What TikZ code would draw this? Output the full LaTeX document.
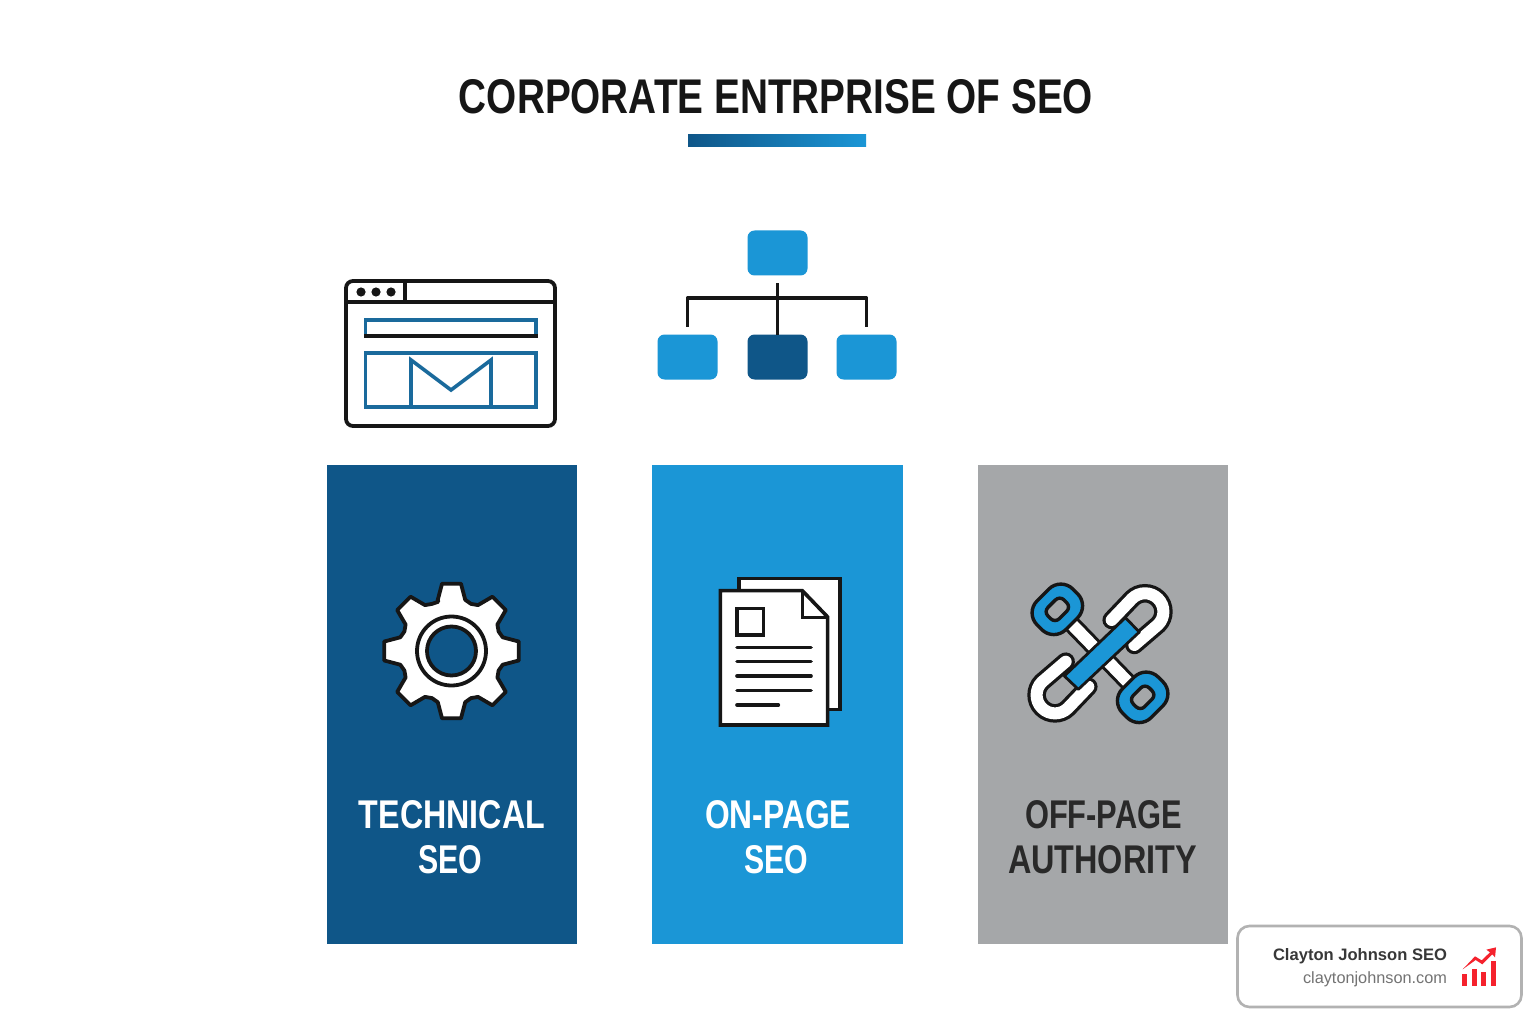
\documentclass[tikz,border=0pt]{standalone}
\usepackage{graphicx}
\usepackage{fontspec}
\setmainfont{Liberation Sans}
\definecolor{navy}{HTML}{0F5688}
\definecolor{sky}{HTML}{1B96D6}
\definecolor{stone}{HTML}{A5A7A9}
\definecolor{ink}{HTML}{161616}
\definecolor{teal}{HTML}{1A6A9C}
\definecolor{redc}{HTML}{F5222D}
\newcommand{\capfit}[3]{\resizebox{#1pt}{#2pt}{\bfseries #3}}
\tikzset{
  label/.style={inner sep=0pt,outer sep=0pt},
  orgbox/.style={rectangle,rounded corners=7pt,minimum width=60pt,minimum height=45pt,inner sep=0pt,outer sep=0pt},
  orgline/.style={draw=ink,line width=3.8pt},
  inkline/.style={draw=ink,line width=3.8pt,line join=round},
  tealline/.style={draw=teal,line width=3.6pt,line join=miter},
}
\begin{document}
\begin{tikzpicture}[x=1pt,y=-1pt]
\useasboundingbox[fill=white] (0,0) rectangle (1536,1024);

% title
\node[label,text=ink] (title) at (776,97) {\capfit{634}{34}{CORPORATE ENTRPRISE OF SEO}};
\shade[left color=navy,right color=sky] (688,135) rectangle (866,147);

% columns
\fill[navy] (327,465) rectangle (576.5,943.5);
\fill[sky] (652,465) rectangle (903,943.5);
\fill[stone] (978,465) rectangle (1227.5,943.5);

% browser icon
\draw[inkline,rounded corners=7pt] (346,281) rectangle (555,426);
\draw[inkline] (346,302) -- (555,302);
\draw[inkline] (405,281) -- (405,302);
\fill[ink] (361,292) circle (4.6) (376,292) circle (4.6) (391,292) circle (4.6);
\draw[tealline] (365.5,320) rectangle (536,336);
\draw[draw=ink,line width=3.6pt] (364,336) -- (537.5,336);
\draw[tealline] (365.5,353) rectangle (536,407);
\draw[tealline] (411,407) -- (411,360) -- (451,390) -- (491,360) -- (491,407);

% org chart
\node[orgbox,fill=sky] (orgtop) at (777.5,253) {};
\node[orgbox,fill=sky] (orgleft) at (687.5,357) {};
\node[orgbox,fill=navy] (orgmid) at (777.5,357) {};
\node[orgbox,fill=sky] (orgright) at (866.5,357) {};
\coordinate (orghub) at (777.5,298);
\draw[orgline,shorten <=8pt] (orgtop.south) -- (orgmid.north);
\draw[orgline,shorten <=8pt,shorten >=8pt,line join=round] (orgleft.north) |- (orghub) -| (orgright.north);
\draw[orgline,shorten >=8pt] (orghub) -- (orgmid.north);

% gear
\begin{scope}[shift={(451.5,651)}]
  \draw[fill=white,draw=ink,line width=3.8pt,line join=round]
    (-105:51)
    \foreach \a in {-90,-45,0,45,90,135,180,225} {
      -- ({\a-15}:53) -- ({\a-8}:68) -- ({\a+8}:68) -- ({\a+15}:53) -- ({\a+22.5}:51)
    } -- cycle;
  \draw[draw=ink,line width=3.8pt,fill=white] (0,0) circle (34.5);
  \draw[draw=ink,line width=3.8pt,fill=navy] (0,0) circle (24.5);
\end{scope}

% documents
\begin{scope}[shift={(705,565)},scale=0.33333]
  \draw[fill=white,draw=ink,line width=3.6pt,line join=miter] (102,40) rectangle (405,433);
  \draw[fill=white,draw=ink,line width=3.6pt,line join=miter] (46,77) -- (292,77) -- (368,156) -- (368,480) -- (46,480) -- cycle;
  \draw[draw=ink,line width=3.6pt,line join=miter] (292,77) -- (292,158) -- (368,158);
  \draw[draw=ink,line width=3.6pt] (96,130) rectangle (176,210);
  \foreach \yy in {247,290,333,377} {
    \draw[draw=ink,line width=3.6pt,line cap=round] (96,\yy) -- (318,\yy);
  }
  \draw[draw=ink,line width=3.6pt,line cap=round] (96,420) -- (220,420);
\end{scope}

% chain links
\begin{scope}[shift={(1020,570)},scale=0.33333]
  % crossing white bar
  \draw[draw=ink,line width=18pt] (112,118) -- (368,382);
  \draw[draw=white,line width=12pt] (112,118) -- (368,382);
  % blue end links
  \foreach \cx/\cy in {112/118,368/382} {
    \begin{scope}[shift={(\cx,\cy)},rotate=45]
      \draw[fill=sky,draw=ink,line width=3.4pt,rounded corners=17pt] (-76,-61) rectangle (76,61);
      \draw[fill=stone,draw=ink,line width=3.4pt,rounded corners=6pt] (-34,-24) rectangle (34,24);
    \end{scope}
  }
  % white U links
  \draw[draw=ink,line width=18.5pt,line cap=round] (275,150) -- (336,86) arc[start angle=-135,end angle=45,radius=55.2] -- (343,225);
  \draw[draw=white,line width=12pt,line cap=round] (275,150) -- (336,86) arc[start angle=-135,end angle=45,radius=55.2] -- (343,225);
  \draw[draw=ink,line width=18.5pt,line cap=round] (205,350) -- (144,414) arc[start angle=45,end angle=225,radius=55.2] -- (137,275);
  \draw[draw=white,line width=12pt,line cap=round] (205,350) -- (144,414) arc[start angle=45,end angle=225,radius=55.2] -- (137,275);
  % blue bar
  \draw[fill=sky,draw=ink,line width=2.8pt,line join=round] (316,143) -- (358,186) -- (175,358) -- (133,318) -- cycle;
\end{scope}

% column labels
\node[label,text=white] (tech1) at (452,815) {\capfit{186}{28}{TECHNICAL}};
\node[label,text=white] (tech2) at (450,860) {\capfit{64}{28}{SEO}};
\node[label,text=white] (onp1) at (778,815) {\capfit{146}{28}{ON-PAGE}};
\node[label,text=white] (onp2) at (776.5,860) {\capfit{64}{28}{SEO}};
\node[label,text=ink!92!white] (off1) at (1103.5,815) {\capfit{157}{28}{OFF-PAGE}};
\node[label,text=ink!92!white] (off2) at (1102.5,860) {\capfit{189}{28}{AUTHORITY}};

% badge
\draw[draw=black!30,line width=2.6pt,fill=white,rounded corners=12pt] (1237.5,926) rectangle (1521.5,1007);
\node[label,anchor=base east,text=black!78] (badge1) at (1447,960) {\resizebox{174pt}{!}{\bfseries Clayton Johnson SEO}};
\node[label,anchor=base east,text=black!55] (badge2) at (1447,983) {\resizebox{144pt}{!}{claytonjohnson.com}};
\begin{scope}[shift={(1230,915)},scale=0.33333]
  \fill[redc] (697,178) rectangle (712,213);
  \fill[redc] (726,162) rectangle (741,213);
  \fill[redc] (754,172) rectangle (768,213);
  \fill[redc] (782,138) rectangle (797,213);
  \fill[redc] (698,163) -- (735,124) -- (755,136) -- (780,112) -- (769,104) -- (798,97) -- (795,127) -- (787,118) -- (757,148) -- (737,135) -- cycle;
\end{scope}
\end{tikzpicture}
\end{document}
